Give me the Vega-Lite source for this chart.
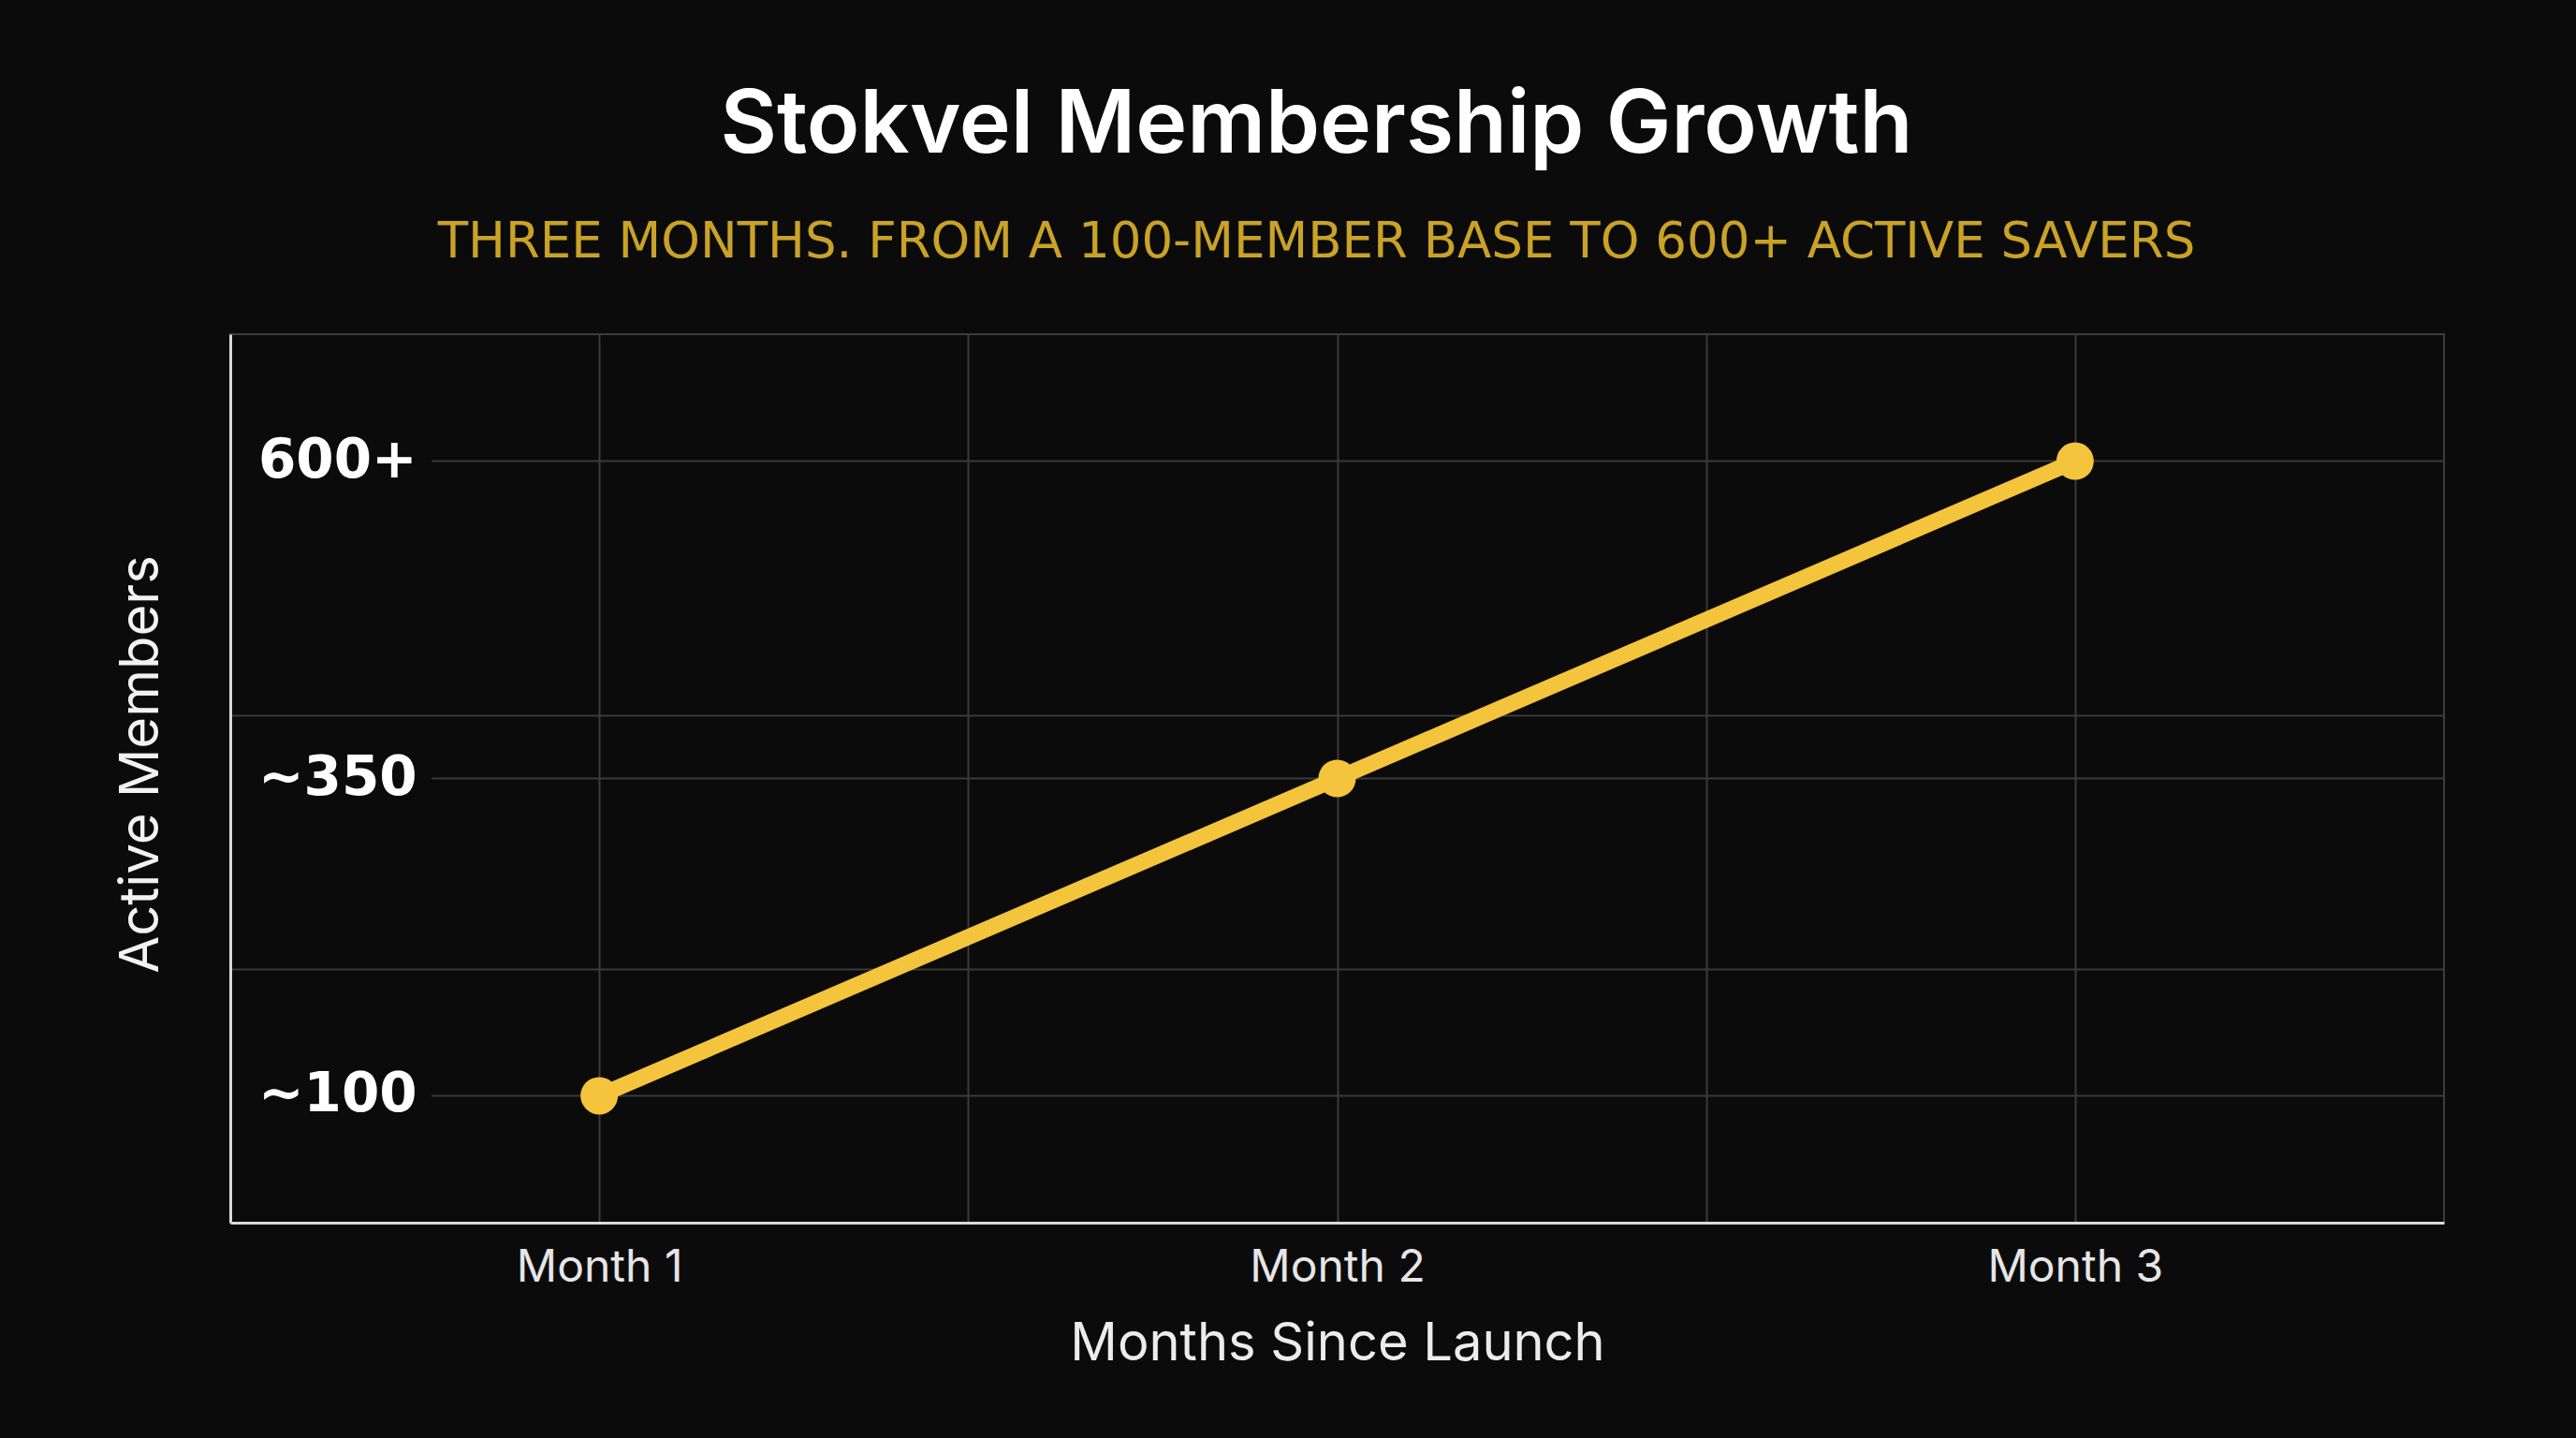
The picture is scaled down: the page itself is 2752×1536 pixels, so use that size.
{
  "$schema": "https://vega.github.io/schema/vega-lite/v6.json",
  "width": 2365,
  "height": 949,
  "autosize": {"type": "none"},
  "padding": {"left": 246, "top": 357, "right": 141, "bottom": 230},
  "background": "#0b0b0b",
  "title": {
    "text": "Stokvel Membership Growth",
    "subtitle": "THREE MONTHS. FROM A 100-MEMBER BASE TO 600+ ACTIVE SAVERS",
    "anchor": "middle",
    "dx": -22,
    "font": "Inter",
    "fontSize": 93,
    "fontWeight": 600,
    "color": "#ffffff",
    "subtitleFont": "DejaVu Sans",
    "subtitleFontSize": 53,
    "subtitleFontWeight": "normal",
    "subtitleColor": "#c9a227",
    "subtitlePadding": 50,
    "offset": 70
  },
  "config": {
    "view": {"stroke": "#3c3c3c", "strokeWidth": 2},
    "font": "Inter"
  },
  "data": {
    "values": [
      {"month": 1, "members": 100, "label": "~100"},
      {"month": 2, "members": 350, "label": "~350"},
      {"month": 3, "members": 600, "label": "600+"}
    ]
  },
  "encoding": {
    "y": {
      "field": "members",
      "type": "quantitative",
      "scale": {"domain": [0, 700], "nice": false, "zero": false},
      "axis": {
        "values": [200, 400],
        "labels": false,
        "ticks": false,
        "domain": true,
        "domainColor": "#d9d9d9",
        "domainWidth": 3,
        "grid": true,
        "gridColor": "#3a3a3a",
        "gridWidth": 2,
        "title": "Active Members",
        "titleFont": "Inter",
        "titleFontSize": 58,
        "titleFontWeight": "normal",
        "titleColor": "#f2f2f2",
        "titlePadding": 66,
        "titleY": 459
      }
    }
  },
  "layer": [
    {
      "mark": {"type": "rule", "color": "#3a3a3a", "strokeWidth": 2},
      "encoding": {
        "x": {"datum": 0.773, "type": "quantitative"},
        "x2": {"datum": 3.5}
      }
    },
    {
      "mark": {"type": "line", "color": "#f4c43c", "strokeWidth": 17, "interpolate": "monotone", "strokeCap": "round"},
      "encoding": {
        "x": {
          "field": "month",
          "type": "quantitative",
          "scale": {"domain": [0.5, 3.5], "nice": false, "zero": false},
          "axis": {
            "values": [1, 1.5, 2, 2.5, 3],
            "labelExpr": "datum.value % 1 === 0 ? 'Month ' + datum.value : ''",
            "labelLimit": 600,
            "labelOverlap": false,
            "ticks": false,
            "domain": true,
            "domainColor": "#d9d9d9",
            "domainWidth": 3,
            "grid": true,
            "gridColor": "#3a3a3a",
            "gridWidth": 2,
            "labelFont": "Inter",
            "labelFontSize": 48,
            "labelColor": "#e6e6e6",
            "labelPadding": 24,
            "title": "Months Since Launch",
            "titleFont": "Inter",
            "titleFontSize": 56,
            "titleFontWeight": "normal",
            "titleColor": "#ececec",
            "titlePadding": 30
          }
        }
      }
    },
    {
      "mark": {"type": "point", "filled": true, "opacity": 1, "color": "#f4c43c", "size": 1600},
      "encoding": {
        "x": {"field": "month", "type": "quantitative"}
      }
    },
    {
      "mark": {"type": "text", "align": "left", "baseline": "middle", "dx": 30, "font": "DejaVu Sans", "fontWeight": "bold", "fontSize": 58, "color": "#ffffff"},
      "encoding": {
        "x": {"datum": 0.5, "type": "quantitative"},
        "text": {"field": "label"}
      }
    }
  ]
}
